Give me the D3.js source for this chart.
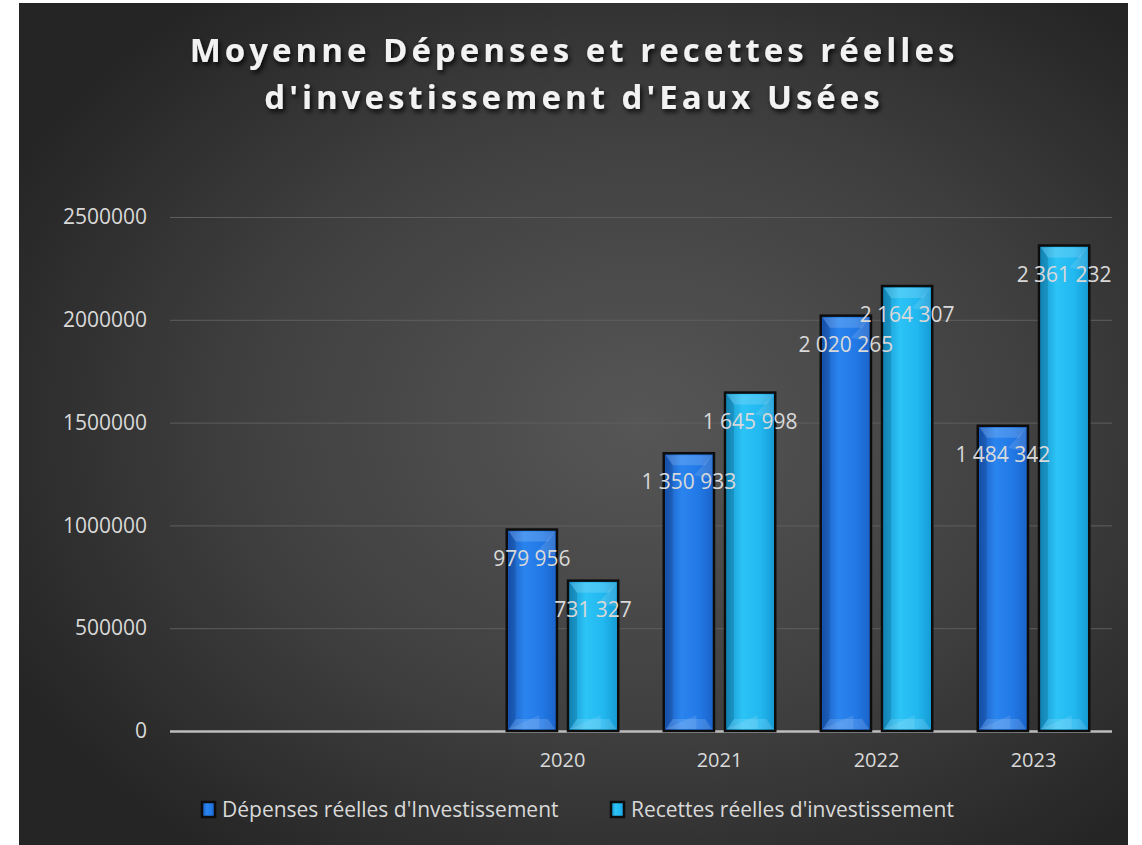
<!DOCTYPE html>
<html>
<head>
<meta charset="UTF-8">
<script src="https://d3js.org/d3.v7.min.js"></script>
<title>Moyenne Dépenses et recettes réelles</title>
<style>
  body { margin: 0; background: #fff; }
  svg text { font-family: "Open Sans", "Noto Sans", sans-serif; }
</style>
</head>
<body>
<div id="chart"></div>
<script>
// données
var categories = ["", "", "2020", "2021", "2022", "2023"];
var depenses = [null, null, 979956, 1350933, 2020265, 1484342];
var recettes = [null, null, 731327, 1645998, 2164307, 2361232];
var seriesNames = ["Dépenses réelles d'Investissement", "Recettes réelles d'investissement"];
var yTicks = [0, 500000, 1000000, 1500000, 2000000, 2500000];
var titleLines = ["Moyenne Dépenses et recettes réelles", "d'investissement d'Eaux Usées"];

var W = 1142, H = 845;
var margin = {left: 170, right: 30, top: 217, bottom: 114};

var svg = d3.select("#chart").append("svg")
  .attr("width", W).attr("height", H);

var defs = svg.append("defs");

// fond sombre en dégradé radial
var bg = defs.append("radialGradient").attr("id", "bg")
  .attr("cx", "56%").attr("cy", "50%").attr("r", "64%");
bg.append("stop").attr("offset", "0%").attr("stop-color", "#565656");
bg.append("stop").attr("offset", "55%").attr("stop-color", "#404040");
bg.append("stop").attr("offset", "100%").attr("stop-color", "#252525");

var shadow = defs.append("filter").attr("id", "shadow")
  .attr("x", "-10%").attr("y", "-30%").attr("width", "120%").attr("height", "160%");
shadow.append("feDropShadow").attr("dx", 2).attr("dy", 3)
  .attr("stdDeviation", 2.5).attr("flood-color", "#000").attr("flood-opacity", 0.85);

var colors = [
  {id: "g0", stops: ["#1755b8", "#2a84ee", "#2279e6", "#1a62c8"]},
  {id: "g1", stops: ["#1290c8", "#2cc3f6", "#22b8f0", "#1699d2"]}
];
colors.forEach(function(c) {
  var g = defs.append("linearGradient").attr("id", c.id)
    .attr("x1", "0").attr("x2", "1").attr("y1", "0").attr("y2", "0");
  [0, 0.35, 0.7, 1].forEach(function(o, i) {
    g.append("stop").attr("offset", o).attr("stop-color", c.stops[i]);
  });
});

svg.append("rect").attr("x", 19).attr("y", 3)
  .attr("width", 1109).attr("height", H - 3)
  .attr("fill", "url(#bg)");

// titre
svg.append("g").attr("filter", "url(#shadow)")
  .selectAll("text").data(titleLines).enter().append("text")
  .attr("x", 574)
  .attr("y", function(d, i) { return 62 + i * 47; })
  .attr("text-anchor", "middle")
  .attr("fill", "#f2f2f2")
  .attr("font-size", 33)
  .attr("font-weight", "bold")
  .attr("letter-spacing", 4)
  .text(function(d) { return d; });

var x0 = d3.scaleBand()
  .domain(d3.range(categories.length))
  .range([margin.left, W - margin.right])
  .paddingInner(0.29).paddingOuter(0.145);

var x1 = d3.scaleBand()
  .domain([0, 1])
  .range([0, x0.bandwidth()])
  .paddingInner(0.18);

var y = d3.scaleLinear()
  .domain([0, 2500000])
  .range([H - margin.bottom, margin.top]);

// grille
var yAxis = svg.append("g")
  .attr("transform", "translate(" + margin.left + ",0)")
  .call(d3.axisLeft(y).tickValues(yTicks).tickFormat(d3.format("d"))
    .tickSize(-(W - margin.left - margin.right)).tickPadding(23));
yAxis.select(".domain").remove();
yAxis.selectAll(".tick line").attr("stroke", "#5e5e5e").attr("stroke-width", 1);
yAxis.selectAll(".tick text").attr("fill", "#d9d9d9").attr("font-size", 21);
yAxis.selectAll(".tick").filter(function(d) { return d === 0; }).select("line")
  .attr("stroke", "#bdbdbd").attr("stroke-width", 2.5);

var xAxis = svg.append("g")
  .attr("transform", "translate(0," + (H - margin.bottom) + ")")
  .call(d3.axisBottom(x0).tickFormat(function(i) { return categories[i]; })
    .tickSize(0).tickPadding(22));
xAxis.select(".domain").remove();
xAxis.selectAll(".tick text").attr("fill", "#d9d9d9").attr("font-size", 20);

// barres
var rows = [];
categories.forEach(function(c, i) {
  [depenses[i], recettes[i]].forEach(function(v, s) {
    if (v != null) rows.push({cat: i, s: s, v: v});
  });
});

var bar = svg.selectAll("g.bar").data(rows).enter().append("g")
  .attr("class", "bar")
  .attr("transform", function(d) {
    return "translate(" + (x0(d.cat) + x1(d.s)) + "," + y(d.v) + ")";
  });

var bw = x1.bandwidth();
bar.append("rect")
  .attr("width", bw)
  .attr("height", function(d) { return y(0) - y(d.v); })
  .attr("fill", function(d) { return "url(#g" + d.s + ")"; })
  .attr("stroke", "#0d0d0d").attr("stroke-width", 2.5);

// biseau haut
bar.append("path")
  .attr("d", "M2,2 H" + (bw - 2) + " L" + (bw - 9) + ",12 H9 Z")
  .attr("fill", "#ffffff").attr("fill-opacity", 0.16);
// coin diagonal haut droit
bar.append("path")
  .attr("d", "M" + (bw - 2) + ",2 L" + (bw - 2) + ",26 L" + (bw - 20) + ",22 Z")
  .attr("fill", "#ffffff").attr("fill-opacity", 0.12);
// côtés
bar.append("path")
  .attr("d", function(d) {
    var h = y(0) - y(d.v);
    return "M2,2 L9,12 V" + (h - 12) + " L2," + (h - 2) + " Z";
  })
  .attr("fill", "#000").attr("fill-opacity", 0.12);
// biseau bas
bar.append("path")
  .attr("d", function(d) {
    var h = y(0) - y(d.v);
    return "M2," + (h - 2) + " L9," + (h - 12) + " H" + (bw - 9) + " L" + (bw - 2) + "," + (h - 2) + " Z";
  })
  .attr("fill", "#ffffff").attr("fill-opacity", 0.14);
bar.append("path")
  .attr("d", function(d) {
    var h = y(0) - y(d.v);
    return "M2," + (h - 2) + " L" + (bw * 0.65) + "," + (h - 16) + " L" + (bw * 0.65) + "," + (h - 2) + " Z";
  })
  .attr("fill", "#ffffff").attr("fill-opacity", 0.1);

// étiquettes de valeurs
var fmt = function(v) { return d3.format(",")(v).replace(/,/g, " "); };
svg.selectAll("text.lbl").data(rows).enter().append("text")
  .attr("class", "lbl")
  .attr("x", function(d) { return x0(d.cat) + x1(d.s) + bw / 2; })
  .attr("y", function(d) { return y(d.v) + 36; })
  .attr("text-anchor", "middle")
  .attr("fill", "#d9d9d9")
  .attr("font-size", 21)
  .text(function(d) { return fmt(d.v); });

// légende
var leg = svg.selectAll("g.leg").data(seriesNames).enter().append("g")
  .attr("class", "leg")
  .attr("transform", function(d, i) { return "translate(" + [202, 611][i] + ",802)"; });
leg.append("rect").attr("width", 13).attr("height", 15)
  .attr("fill", function(d, i) { return "url(#g" + i + ")"; })
  .attr("stroke", "#0d0d0d").attr("stroke-width", 2.5);
leg.append("text").attr("x", 20).attr("y", 15)
  .attr("fill", "#d9d9d9").attr("font-size", 21)
  .text(function(d) { return d; });
</script>
</body>
</html>
